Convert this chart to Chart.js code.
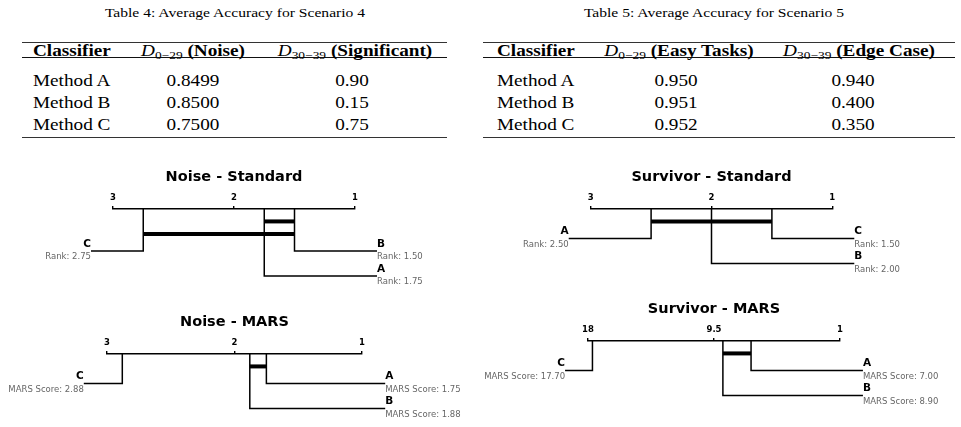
<!DOCTYPE html>
<html>
<head>
<meta charset="utf-8">
<script src="https://cdn.jsdelivr.net/npm/chart.js@4.4.1/dist/chart.umd.min.js"></script>
<style>
  body { margin: 0; background: #fff; }
  #page { position: relative; width: 961px; height: 427px; overflow: hidden; background: #fff;
          font-family: 'Liberation Serif', 'Times New Roman', serif; color: #000; }
  .t { position: absolute; white-space: nowrap; line-height: 1; font-size: 16px; }
  .t.cap { font-size: 13px; }
  .t sub { font-size: 0.7em; position: relative; top: 0.3em; vertical-align: baseline; line-height: 0; }
  .rule { position: absolute; background: #000; }
  canvas { position: absolute; }
</style>
</head>
<body>
<div id="page"></div>
<script>
// table values
const tableMethods = ['Method A', 'Method B', 'Method C'];
const scenario4Noise = ['0.8499', '0.8500', '0.7500'];
const scenario4Significant = ['0.90', '0.15', '0.75'];
const scenario5Easy = ['0.950', '0.951', '0.952'];
const scenario5Edge = ['0.940', '0.400', '0.350'];

// critical difference diagrams
const noiseClassifiers = ['A', 'B', 'C'];
const noiseStandardRanks = [1.75, 1.50, 2.75];
const noiseStandardCliques = [['A', 'B'], ['C', 'A', 'B']];
const noiseMarsScores = [1.75, 1.88, 2.88];
const noiseMarsCliques = [['A', 'B']];

const survivorClassifiers = ['A', 'B', 'C'];
const survivorStandardRanks = [2.50, 2.00, 1.50];
const survivorStandardCliques = [['A', 'B', 'C']];
const survivorMarsScores = [7.00, 8.90, 17.70];
const survivorMarsCliques = [['A', 'B']];

const rankTicks = [3, 2, 1];
const survivorMarsTicks = [18, 9.5, 1];

const page = document.getElementById('page');
const STRETCH = 1.2;

function addText(html, x, y, align, cls) {
  const el = document.createElement('div');
  el.className = 't' + (cls ? ' ' + cls : '');
  el.innerHTML = html;
  el.style.left = x + 'px';
  el.style.top = y + 'px';
  if (align === 'left') {
    el.style.transformOrigin = '0 50%';
    el.style.transform = `translate(0, -50%) scaleX(${STRETCH})`;
  } else {
    el.style.transform = `translate(-50%, -50%) scaleX(${STRETCH})`;
  }
  page.appendChild(el);
}

function addRule(x1, x2, y, h, color) {
  const el = document.createElement('div');
  el.className = 'rule';
  el.style.left = x1 + 'px';
  el.style.width = (x2 - x1) + 'px';
  el.style.top = y + 'px';
  el.style.height = h + 'px';
  el.style.background = color;
  page.appendChild(el);
}

function header(sub, label) {
  return `<i>D</i><sub>${sub}</sub> <b>${label}</b>`;
}

function drawTable(t) {
  addText(t.caption, t.captionX, 12, 'center', 'cap');
  addRule(t.left, t.right, 42, 1.2, '#333');
  addRule(t.left, t.right, 57, 1, '#111');
  addRule(t.left, t.right, 136.5, 1.2, '#333');
  const rowY = [81.3, 102.9, 125];
  addText('<b>Classifier</b>', t.labelX, 51, 'left');
  tableMethods.forEach((m, i) => addText(m, t.labelX, rowY[i], 'left'));
  t.cols.forEach(col => {
    addText(col.head, col.headX, 51, 'center');
    col.values.forEach((v, i) => addText(v, col.valX, rowY[i], 'center'));
  });
}

drawTable({
  caption: 'Table 4: Average Accuracy for Scenario 4', captionX: 235,
  left: 22, right: 447, labelX: 33,
  cols: [
    { head: header('0\u221229', '(Noise)'), headX: 193.3, valX: 193.3, values: scenario4Noise },
    { head: header('30\u221239', '(Significant)'), headX: 355, valX: 352, values: scenario4Significant }
  ]
});

drawTable({
  caption: 'Table 5: Average Accuracy for Scenario 5', captionX: 714,
  left: 483, right: 955, labelX: 497,
  cols: [
    { head: header('0\u221229', '(Easy Tasks)'), headX: 678.7, valX: 676, values: scenario5Easy },
    { head: header('30\u221239', '(Edge Case)'), headX: 859, valX: 853, values: scenario5Edge }
  ]
});

const AXIS_TOP = 49;
const PAD_BOTTOM = 10;
const CLIQUE_STEP = 12.5;
const ROW_GAP = 17;
const ROW_STEP = 25;

function segment(points, width) {
  return {
    data: points,
    borderColor: '#000',
    borderWidth: width,
    borderCapStyle: 'butt',
    borderJoinStyle: 'miter',
    pointRadius: 0,
    fill: false,
    tension: 0,
    clip: false
  };
}

function cdDiagram(box, title, names, scores, cliques, ticks, scoreLabel) {
  const canvas = document.createElement('canvas');
  canvas.width = box.w;
  canvas.height = box.h;
  canvas.style.left = box.x + 'px';
  canvas.style.top = box.y + 'px';
  page.appendChild(canvas);

  const lo = Math.min(...ticks);
  const hi = Math.max(...ticks);
  const stub = (hi - lo) * 0.091;

  // worst on the left, best on the right
  const order = names.map((_, i) => i).sort((a, b) => scores[b] - scores[a]);
  const nLeft = Math.floor(names.length / 2);
  const firstRow = cliques.length * CLIQUE_STEP + ROW_GAP;
  const rows = [];
  order.slice(0, nLeft).forEach((i, r) => rows.push({ i, side: 'left', y: firstRow + r * ROW_STEP, end: hi + stub }));
  order.slice(nLeft).reverse().forEach((i, r) => rows.push({ i, side: 'right', y: firstRow + r * ROW_STEP, end: lo - stub }));

  const datasets = [];
  rows.forEach(row => {
    const s = scores[row.i];
    datasets.push(segment([{ x: s, y: 0 }, { x: s, y: row.y }, { x: row.end, y: row.y }], 1.5));
  });
  cliques.forEach((members, k) => {
    const vals = members.map(m => scores[names.indexOf(m)]);
    const cy = (k + 1) * CLIQUE_STEP;
    datasets.push(segment([{ x: Math.min(...vals), y: cy }, { x: Math.max(...vals), y: cy }], 4));
  });

  new Chart(canvas, {
    type: 'line',
    data: { datasets },
    options: {
      responsive: false,
      animation: false,
      events: [],
      layout: { padding: { left: box.pad, right: box.pad, top: 0, bottom: PAD_BOTTOM } },
      plugins: {
        legend: { display: false },
        tooltip: { enabled: false },
        title: {
          display: true,
          text: title,
          color: '#000',
          font: { family: 'DejaVu Sans', size: 14.5, weight: 'bold' },
          padding: { top: 8.3, bottom: 4 }
        }
      },
      scales: {
        x: {
          type: 'linear',
          position: 'top',
          reverse: true,
          min: lo,
          max: hi,
          afterBuildTicks: scale => { scale.ticks = ticks.map(v => ({ value: v })); },
          grid: { drawOnChartArea: false, drawTicks: true, tickLength: 3, color: '#000', lineWidth: 1.4 },
          border: { display: true, color: '#000', width: 1.5 },
          ticks: {
            color: '#000',
            font: { family: 'DejaVu Sans', size: 8.5, weight: 'bold' },
            padding: 3,
            maxRotation: 0,
            autoSkip: false,
            callback: v => String(v)
          }
        },
        y: { type: 'linear', display: false, min: 0, max: box.h - AXIS_TOP - PAD_BOTTOM, reverse: true }
      }
    },
    plugins: [{
      id: 'cdLabels',
      afterDatasetsDraw(chart) {
        const { ctx, scales: { x, y } } = chart;
        ctx.save();
        ctx.textBaseline = 'middle';
        rows.forEach(row => {
          const px = x.getPixelForValue(row.end);
          const py = y.getPixelForValue(row.y);
          ctx.textAlign = row.side === 'left' ? 'right' : 'left';
          ctx.fillStyle = '#000';
          ctx.font = 'bold 10.5px "DejaVu Sans"';
          ctx.fillText(names[row.i], px, py - 7);
          ctx.fillStyle = '#666';
          ctx.font = '8.5px "DejaVu Sans"';
          ctx.fillText(scoreLabel + ': ' + scores[row.i].toFixed(2), px, py + 6.3);
        });
        ctx.restore();
      }
    }]
  });
}

cdDiagram({ x: 0, y: 160, w: 468, h: 130, pad: 113 }, 'Noise - Standard',
  noiseClassifiers, noiseStandardRanks, noiseStandardCliques, rankTicks, 'Rank');
cdDiagram({ x: 0, y: 305, w: 469, h: 120, pad: 107 }, 'Noise - MARS',
  noiseClassifiers, noiseMarsScores, noiseMarsCliques, rankTicks, 'MARS Score');
cdDiagram({ x: 480, y: 160, w: 463, h: 115, pad: 110.7 }, 'Survivor - Standard',
  survivorClassifiers, survivorStandardRanks, survivorStandardCliques, rankTicks, 'Rank');
cdDiagram({ x: 480, y: 292, w: 468, h: 115, pad: 108 }, 'Survivor - MARS',
  survivorClassifiers, survivorMarsScores, survivorMarsCliques, survivorMarsTicks, 'MARS Score');
</script>
</body>
</html>
